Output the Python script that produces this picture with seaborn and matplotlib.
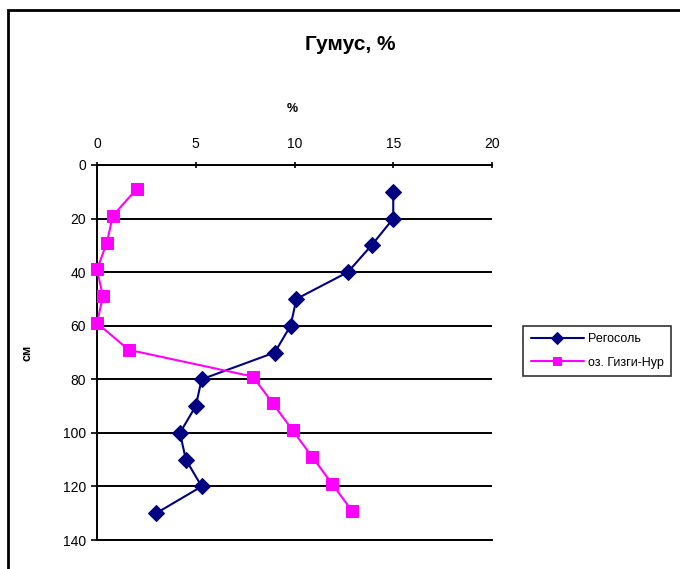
import numpy as np
import pandas as pd
import seaborn as sns
import matplotlib.pyplot as plt
from matplotlib.patches import Rectangle

# depth, cm and humus, %
depth_regosol = [10, 20, 30, 40, 50, 60, 70, 80, 90, 100, 110, 120, 130]
humus_regosol = [15.0, 15.0, 13.9, 12.7, 10.1, 9.8, 9.0, 5.3, 5.0, 4.2, 4.5, 5.3, 3.0]

depth_lake = [9, 19, 29, 39, 49, 59, 69, 79, 89, 99, 109, 119, 129]
humus_lake = [2.0, 0.8, 0.5, 0.0, 0.3, 0.0, 1.6, 7.9, 8.9, 9.9, 10.9, 11.9, 12.9]

series_names = ["Регосоль", "оз. Гизги-Нур"]
x_ticks = [0, 5, 10, 15, 20]
y_ticks = [0, 20, 40, 60, 80, 100, 120, 140]

sns.set_theme(style="white")
plt.rcParams['font.family'] = ['Liberation Sans', 'DejaVu Sans']
plt.rcParams['text.color'] = 'black'
plt.rcParams['axes.labelcolor'] = 'black'
plt.rcParams['xtick.color'] = 'black'
plt.rcParams['ytick.color'] = 'black'

fig = plt.figure(figsize=(6.8, 5.69), dpi=100)
ax = fig.add_axes([97 / 680, 1 - 540 / 569, 395 / 680, 375 / 569])

df_reg = pd.DataFrame({'x': humus_regosol, 'y': depth_regosol})
df_lake = pd.DataFrame({'x': humus_lake, 'y': depth_lake})

sns.lineplot(data=df_reg, x='x', y='y', sort=False, estimator=None, ax=ax,
             color='#000080', marker='D', markersize=8, markeredgecolor='#000080',
             linewidth=1.5, label=series_names[0])
sns.lineplot(data=df_lake, x='x', y='y', sort=False, estimator=None, ax=ax,
             color='#FF00FF', marker='s', markersize=8.5, markeredgecolor='#FF00FF',
             linewidth=1.5, label=series_names[1])
for ln in ax.lines:
    ln.set_clip_on(False)
    ln.set_zorder(5)

ax.set_xlim(0, 20)
ax.set_ylim(140, 0)
ax.set_xticks(x_ticks)
ax.set_yticks(y_ticks)
ax.xaxis.tick_top()
ax.tick_params(axis='x', which='both', top=True, bottom=False, direction='inout',
               length=4, width=1.2, labelsize=10, pad=8)
ax.tick_params(axis='y', left=True, direction='out', length=4, width=1.2,
               labelsize=10, pad=4)

ax.yaxis.grid(True, color='black', linewidth=1.4)
ax.xaxis.grid(False)
for side in ['top', 'left', 'bottom']:
    ax.spines[side].set_color('black')
    ax.spines[side].set_linewidth(1.4)
ax.spines['right'].set_visible(False)

ax.set_xlabel('%', fontsize=9, fontweight='bold')
ax.xaxis.set_label_position('top')
ax.xaxis.set_label_coords(0.494, 1.141)
ax.set_ylabel('см', fontsize=9, fontweight='bold')
ax.yaxis.set_label_coords(-0.16, 0.5)

fig.text(350 / 680, 1 - 45 / 569, 'Гумус, %', fontsize=15, fontweight='bold',
         ha='center', va='center')

leg = ax.legend(loc='center left', bbox_to_anchor=(523 / 680, 1 - 351 / 569),
                bbox_transform=fig.transFigure, fontsize=9, frameon=True,
                fancybox=False, handlelength=4.3, borderpad=0.6, labelspacing=0.9,
                handletextpad=0.3, borderaxespad=0)
leg.get_frame().set_edgecolor('black')
leg.get_frame().set_linewidth(1.2)
for h in leg.legend_handles:
    h.set_markersize(6)

fig.patches.append(Rectangle((8 / 680, -0.1), 1.2, 1 - 10 / 569 + 0.1,
                             transform=fig.transFigure, fill=False,
                             edgecolor='black', linewidth=2, clip_on=False))

fig.savefig('out.png', dpi=100)
